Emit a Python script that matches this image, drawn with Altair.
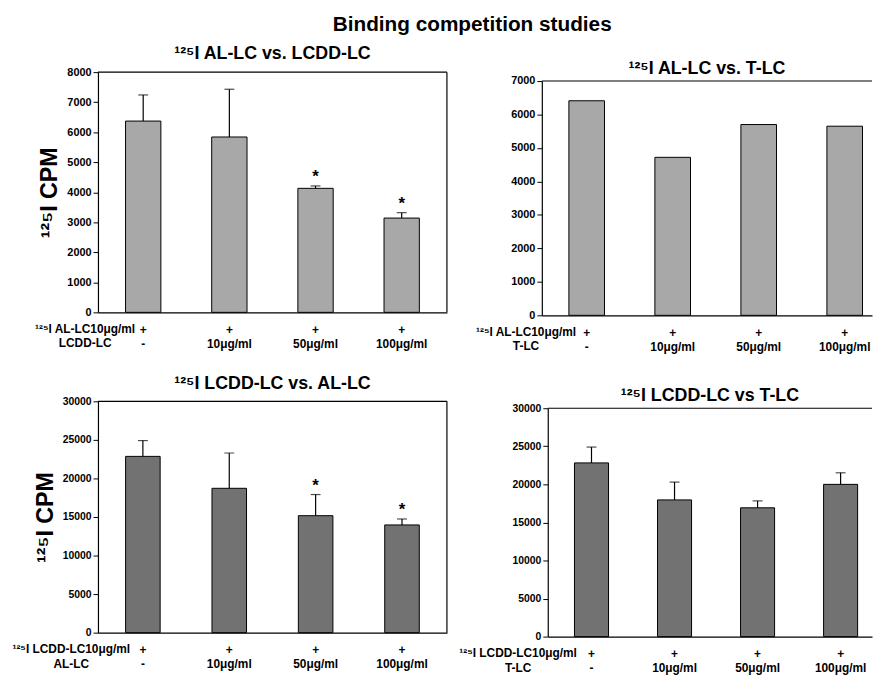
import altair as alt
import pandas as pd

# ---- data ----
plus_row = ["+", "+", "+", "+"]
conc_row = ["-", "10μg/ml", "50μg/ml", "100μg/ml"]

tl_values = [6370, 5840, 4130, 3140]
tl_err = [7240, 7430, 4210, 3320]
tl_star = ["", "", "*", "*"]

tr_values = [6410, 4720, 5700, 5650]

bl_values = [22860, 18720, 15170, 13970]
bl_err = [24910, 23300, 17910, 14740]
bl_star = ["", "", "*", "*"]

br_values = [22820, 17960, 16920, 20000]
br_err = [24900, 20300, 17830, 21520]
br_star = ["", "", "", ""]

tl_header = ["¹²⁵I AL-LC10μg/ml", "LCDD-LC"]
tr_header = ["¹²⁵I AL-LC10μg/ml", "T-LC"]
bl_header = ["¹²⁵I LCDD-LC10μg/ml", "AL-LC"]
br_header = ["¹²⁵I LCDD-LC10μg/ml", "T-LC"]

cats = [p + "|" + c for p, c in zip(plus_row, conc_row)]

FONT = "Liberation Sans"


def panel(values, err, stars, title_text, header, ymax, ystep, width, height,
          top, left, fill, pad_inner, pad_outer, align, header_x, ytitle, title_dy,
          ylabel_size, right_frame):
    df = pd.DataFrame({
        "cat": cats,
        "value": values,
        "err": err if err is not None else values,
        "star": stars if stars is not None else [""] * 4,
    })
    xscale = alt.Scale(paddingInner=pad_inner, paddingOuter=pad_outer, align=align,
                       range=[left, width])
    xaxis = alt.Axis(labelExpr="split(datum.label, '|')", labelAngle=0,
                     ticks=False, tickSize=0, labelBaseline="top", labelPadding=12,
                     labelLineHeight=14.5, labelFontSize=12, labelFontWeight="bold",
                     labelOverlap=False, labelLimit=200)
    x = alt.X("cat:N", sort=cats, title=None, scale=xscale, axis=xaxis)
    yscale = alt.Scale(domain=[0, ymax], range=[height, top], nice=False, zero=True)
    yaxis = alt.Axis(values=list(range(0, ymax + 1, ystep)), grid=False, tickSize=5,
                     format="d", offset=-left,
                     labelFontSize=ylabel_size, labelFontWeight="bold", labelPadding=2,
                     titleFontSize=23.5, titleFontWeight="bold", titlePadding=5)

    def y(field):
        if ytitle:
            return alt.Y(field, scale=yscale, axis=yaxis, title=ytitle)
        return alt.Y(field, scale=yscale, axis=yaxis, title=None)

    base = alt.Chart(df)
    layers = [base.mark_bar(fill=fill, stroke="black", strokeWidth=1).encode(x=x, y=y("value:Q"))]
    if err is not None:
        layers.append(base.mark_rule(color="black", strokeWidth=1.2).encode(
            x=x, y=y("value:Q"), y2="err:Q"))
        layers.append(base.mark_tick(color="black", size=10, thickness=1.2).encode(
            x=x, y=y("err:Q")))
        layers.append(base.mark_text(fontSize=17, fontWeight="bold", baseline="middle",
                                     dy=-9, color="black").encode(
            x=x, y=y("err:Q"), text="star:N"))
    one = pd.DataFrame({"k": [0]})
    layers.append(alt.Chart(one).mark_rule(color="black", strokeWidth=1.2).encode(
        x=alt.value(left), x2=alt.value(width), y=alt.value(top)))
    if right_frame:
        layers.append(alt.Chart(one).mark_rule(color="black", strokeWidth=1.2).encode(
            x=alt.value(width), y=alt.value(top), y2=alt.value(height)))
    layers.append(alt.Chart(one).mark_text(
        text=header, align="center", baseline="top", fontSize=12, fontWeight="bold",
        lineHeight=14.5, color="black").encode(
        x=alt.value(header_x + left), y=alt.value(height + 12)))
    return alt.layer(*layers).properties(
        width=width, height=height,
        title=alt.Title(title_text, fontSize=18, fontWeight="bold", offset=3,
                        dy=title_dy, dx=left / 2, color="black"))


tl = panel(tl_values, tl_err, tl_star, "¹²⁵I AL-LC vs. LCDD-LC", tl_header,
           8000, 1000, 353, 243, 0, 0, "#a8a8a8", 0.59, 0.32, 0.5, -13, "¹²⁵I CPM", 0, 11, True)
tr = panel(tr_values, None, None, "¹²⁵I AL-LC vs.  T-LC", tr_header,
           7000, 1000, 334, 246, 9, 0, "#a8a8a8", 0.586, 0.2125, 0.74, -16, None, 9, 11, False)
bl = panel(bl_values, bl_err, bl_star, "¹²⁵I LCDD-LC vs. AL-LC", bl_header,
           30000, 5000, 353, 234, 0, 0, "#727272", 0.6, 0.32, 0.5, -27, "¹²⁵I CPM", 0, 10.5, True)
br = panel(br_values, br_err, br_star, "¹²⁵I LCDD-LC vs T-LC", br_header,
           30000, 5000, 334, 238, 7, 6, "#727272", 0.59, 0.2475, 0.65, -30, None, 7, 10.5, False)

chart = alt.concat(tl, tr, bl, br, columns=2, spacing={"row": 87, "column": 96},
                   bounds="flush", align="each").properties(
    title=alt.Title("Binding competition studies", fontSize=21, fontWeight="bold",
                    anchor="middle", dx=30, offset=11, color="black"),
    padding={"left": 4, "top": 2, "right": 0, "bottom": 0},
).configure(font=FONT).configure_view(stroke=None).configure_axis(
    domainColor="black", domainWidth=1.2, tickColor="black", labelColor="black",
    titleColor="black")

chart.save("out.html", embed_options={"renderer": "svg", "actions": False})
